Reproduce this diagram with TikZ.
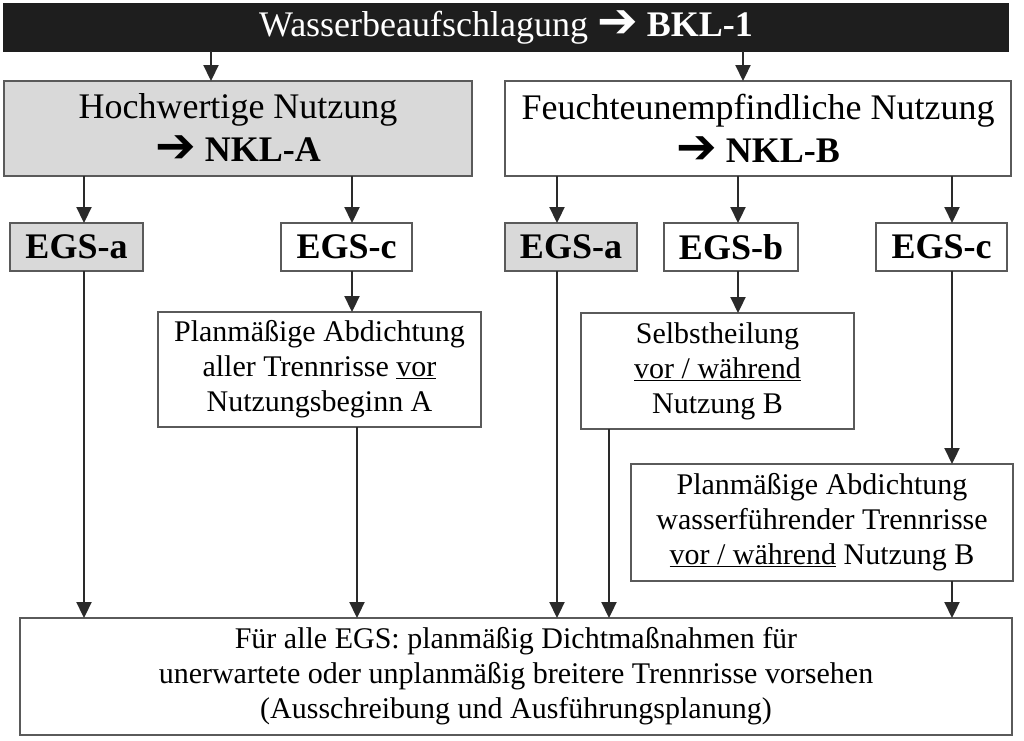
\documentclass[tikz,border=0pt]{standalone}
\usepackage{fontspec}
\setmainfont{Liberation Serif}
\newfontfamily\arrowfont{DejaVu Sans}
\usetikzlibrary{arrows.meta}
\definecolor{barblack}{HTML}{1E1E1E}
\definecolor{boxfill}{HTML}{D9D9D9}
\definecolor{boxgray}{HTML}{5A5A5A}
\definecolor{linegray}{HTML}{2A2A2A}
\newcommand{\thickarrow}{\raisebox{-1pt}{\scalebox{1.35}{\arrowfont\bfseries\char"2794}}}

\begin{document}
\begin{tikzpicture}[x=1pt,y=-1pt,
    box/.style={draw=boxgray,line width=1.6pt,inner sep=0pt,outer sep=0pt,align=center,font=\fontsize{30}{35}\selectfont},
    bigbox/.style={box,font=\fontsize{36}{43}\selectfont},
    egs/.style={box,font=\fontsize{36}{43}\selectfont\bfseries,minimum height=48pt},
    shade/.style={fill=boxfill},
    arr/.style={draw=linegray,line width=2.2pt,-{Triangle[width=15pt,length=16pt]}}]
    \useasboundingbox (0,0) rectangle (1024,740);
    \node[bigbox,fill=barblack,draw=barblack,text=white,minimum width=1004pt,minimum height=47pt] (bar) at (506,27.5)
    {Wasserbeaufschlagung \thickarrow{} \textbf{BKL-1}};
    \node[bigbox,shade,minimum width=468pt,minimum height=95pt] (nkla) at (238,128.5)
    {Hochwertige Nutzung\\ \textbf{\thickarrow{} NKL-A}};
    \node[bigbox,minimum width=506pt,minimum height=95pt] (nklb) at (758,128.5)
    {Feuchteunempfindliche Nutzung\\ \textbf{\thickarrow{} NKL-B}};
    \node[egs,shade,minimum width=133pt] (egsal) at (76.5,247) {EGS-a};
    \node[egs,minimum width=131pt] (egscl) at (346.5,247) {EGS-c};
    \node[egs,shade,minimum width=132pt] (egsar) at (571,247) {EGS-a};
    \node[egs,minimum width=134pt] (egsb) at (731,247) {EGS-b};
    \node[egs,minimum width=131pt] (egscr) at (941.5,247) {EGS-c};
    \node[box,minimum width=323pt,minimum height=115pt] (plana) at (319.5,369.5)
    {Planmäßige Abdichtung\\ aller Trennrisse \underline{vor}\\ Nutzungsbeginn A};
    \node[box,minimum width=273pt,minimum height=116pt] (selbst) at (717.5,371)
    {Selbstheilung\\ \underline{vor / während}\\ Nutzung B};
    \node[box,minimum width=382pt,minimum height=117pt] (planb) at (822,522.5)
    {Planmäßige Abdichtung\\ wasserführender Trennrisse\\ \underline{vor / während} Nutzung B};
    \node[box,minimum width=992pt,minimum height=117pt] (final) at (516,676.5)
    {Für alle EGS: planmäßig Dichtmaßnahmen für\\ unerwartete oder unplanmäßig breitere Trennrisse vorsehen\\ (Ausschreibung und Ausführungsplanung)};
    \foreach \c/\x in {ta/211,tb/743,la/84,lc/352,lp/357,ra/557,rb/738,rs/609,rc/952}
        \coordinate (\c) at (\x,0);
    \foreach \a/\b/\c in {bar/nkla/ta,bar/nklb/tb,nkla/egsal/la,nkla/egscl/lc,
            egsal/final/la,egscl/plana/lc,plana/final/lp,nklb/egsar/ra,nklb/egsb/rb,
            nklb/egscr/rc,egsar/final/ra,egsb/selbst/rb,selbst/final/rs,
            egscr/planb/rc,planb/final/rc}
        \draw[arr] (\a.south -| \c) -- (\b.north -| \c);
\end{tikzpicture}
\end{document}
